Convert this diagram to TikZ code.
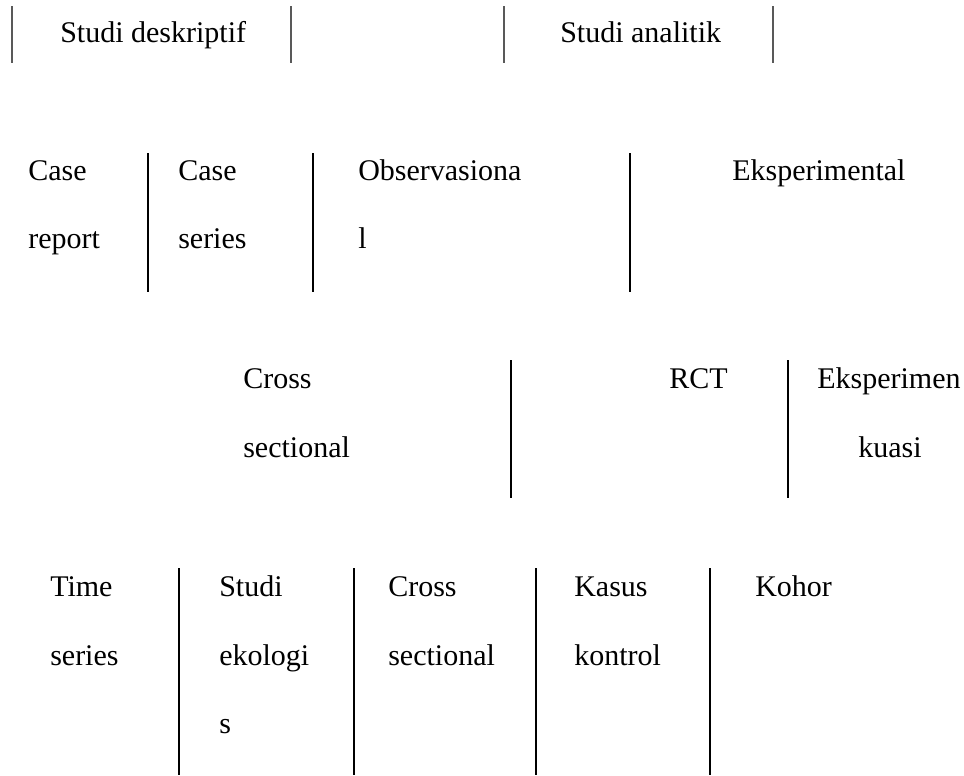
\documentclass[tikz,border=0pt]{standalone}
\usepackage{fontspec}
\setmainfont{Liberation Serif}
\begin{document}
\begin{tikzpicture}[x=0.75pt,y=-0.75pt,
  txt/.style={anchor=base west,inner sep=0pt,font=\fontsize{22.5}{27}\selectfont},
  ctxt/.style={anchor=base,inner sep=0pt,font=\fontsize{22.5}{27}\selectfont},
  topsep/.style={line width=1pt,draw=black!65},
  sepline/.style={line width=1.4pt,draw=black}]
\useasboundingbox (0,0) rectangle (964,775);
% row 1
\draw[topsep] (12,6) -- (12,63);
\draw[topsep] (291,6) -- (291,63);
\draw[topsep] (504,6) -- (504,63);
\draw[topsep] (773,6) -- (773,63);
\node[txt] (desk) at (60,42) {Studi deskriptif};
\node[txt] (anal) at (560,42) {Studi analitik};
% row 2
\draw[sepline] (148,153) -- (148,292);
\draw[sepline] (313,153) -- (313,292);
\draw[sepline] (630,153) -- (630,292);
\node[txt] (cr1) at (28,180) {Case};
\node[txt] (cr2) at (28,248) {report};
\node[txt] (cs1) at (178,180) {Case};
\node[txt] (cs2) at (178,248) {series};
\node[txt] (ob1) at (358,180) {Observasiona};
\node[txt] (ob2) at (358,248) {l};
\node[txt] (eks) at (732,180) {Eksperimental};
% row 3
\draw[sepline] (511,360) -- (511,498);
\draw[sepline] (788,360) -- (788,498);
\node[txt] (cx1) at (243,388) {Cross};
\node[txt] (cx2) at (243,457) {sectional};
\node[txt] (rct) at (669,388) {RCT};
\node[txt] (ek1) at (817,388) {Eksperimen};
\node[ctxt] (ek2) at (890,457) {kuasi};
% row 4
\draw[sepline] (179,568) -- (179,775);
\draw[sepline] (354,568) -- (354,775);
\draw[sepline] (536,568) -- (536,775);
\draw[sepline] (710,568) -- (710,775);
\node[txt] (ts1) at (50,596) {Time};
\node[txt] (ts2) at (50,665) {series};
\node[txt] (se1) at (219,596) {Studi};
\node[txt] (se2) at (219,665) {ekologi};
\node[txt] (se3) at (219,733) {s};
\node[txt] (cs31) at (388,596) {Cross};
\node[txt] (cs32) at (388,665) {sectional};
\node[txt] (kk1) at (574,596) {Kasus};
\node[txt] (kk2) at (574,665) {kontrol};
\node[txt] (koh) at (755,596) {Kohor};
\end{tikzpicture}
\end{document}
